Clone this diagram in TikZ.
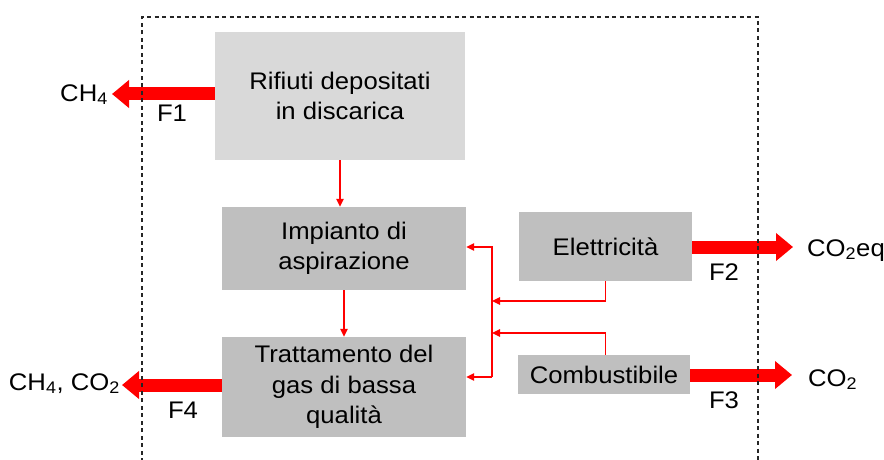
\documentclass[tikz,border=0pt]{standalone}
\usepackage{fontspec}
\setmainfont[FakeStretch=1.07]{Liberation Sans}
\usetikzlibrary{arrows.meta}
\definecolor{boxlight}{HTML}{D9D9D9}
\definecolor{boxdark}{HTML}{BFBFBF}
\definecolor{flowred}{HTML}{FF0000}
\tikzset{
  basebox/.style={rectangle, inner sep=0pt, align=center, font=\fontsize{24}{30.5}\selectfont},
  lightbox/.style={basebox, fill=boxlight},
  darkbox/.style={basebox, fill=boxdark},
  linkarrow/.style={draw=flowred, line width=1.3pt, -{Triangle[length=8pt,width=7.5pt]}},
  bigflow/.style={draw=flowred, line width=13pt, -{Triangle[length=17pt,width=27pt]}},
  lbl/.style={inner sep=0pt, font=\fontsize{24}{30.5}\selectfont},
  boundary/.style={draw=black!85, line width=1.2pt, dash pattern=on 4pt off 3.5pt}
}
\begin{document}
\begin{tikzpicture}[x=1pt, y=-1pt]
\useasboundingbox (0,0) rectangle (884,460);
% boxes
\node[lightbox, minimum width=250pt, minimum height=128pt] (rif) at (340,96) {Rifiuti depositati\\in discarica};
\node[darkbox, minimum width=244pt, minimum height=83pt] (imp) at (344,248.5) {Impianto di\\aspirazione};
\node[darkbox, minimum width=244pt, minimum height=100pt] (trat) at (344,387) {Trattamento del\\gas di bassa\\qualità};
\node[darkbox, minimum width=173pt, minimum height=69pt] (el) at (605.5,246.5) {Elettricità};
\node[darkbox, minimum width=172pt, minimum height=39pt] (comb) at (604,374.5) {Combustibile};
% thin connectors
\draw[linkarrow] (rif.south) -- (rif.south |- imp.north);
\draw[linkarrow] (imp.south) -- (trat.north);
\coordinate (jt) at (492,247);
\coordinate (jb) at (492,377);
\coordinate (je) at (492,301);
\coordinate (jc) at (492,333);
\draw[linkarrow] (jb) -- (jt) -- (imp.east |- jt);
\draw[linkarrow] (jb) -- (trat.east |- jb);
\draw[linkarrow] (el.south) |- (je);
\draw[linkarrow] (comb.north -| el.south) |- (jc);
% big flows
\coordinate (t1) at (112,94);
\coordinate (t4) at (122,385);
\coordinate (t2) at (793,247);
\coordinate (t3) at (792,375);
\draw[bigflow] (rif.west |- t1) -- (t1);
\draw[bigflow] (trat.west |- t4) -- (t4);
\draw[bigflow] (el.east |- t2) -- (t2);
\draw[bigflow] (comb.east |- t3) -- (t3);
% labels
\node[lbl, anchor=base east] (ch4) at (108,101) {CH\textsubscript{4}};
\node[lbl] (f1) at (172,113) {F1};
\node[lbl, anchor=base east] (ch4co2) at (120,390) {CH\textsubscript{4}, CO\textsubscript{2}};
\node[lbl] (f4) at (183,410) {F4};
\node[lbl, anchor=base west] (co2eq) at (807,256) {CO\textsubscript{2}eq};
\node[lbl] (f2) at (724,272) {F2};
\node[lbl, anchor=base west] (co2) at (808,386) {CO\textsubscript{2}};
\node[lbl] (f3) at (724,400) {F3};
% system boundary
\draw[boundary] (142,462) -- (142,17) -- (758,17) -- (758,462);
\end{tikzpicture}
\end{document}
